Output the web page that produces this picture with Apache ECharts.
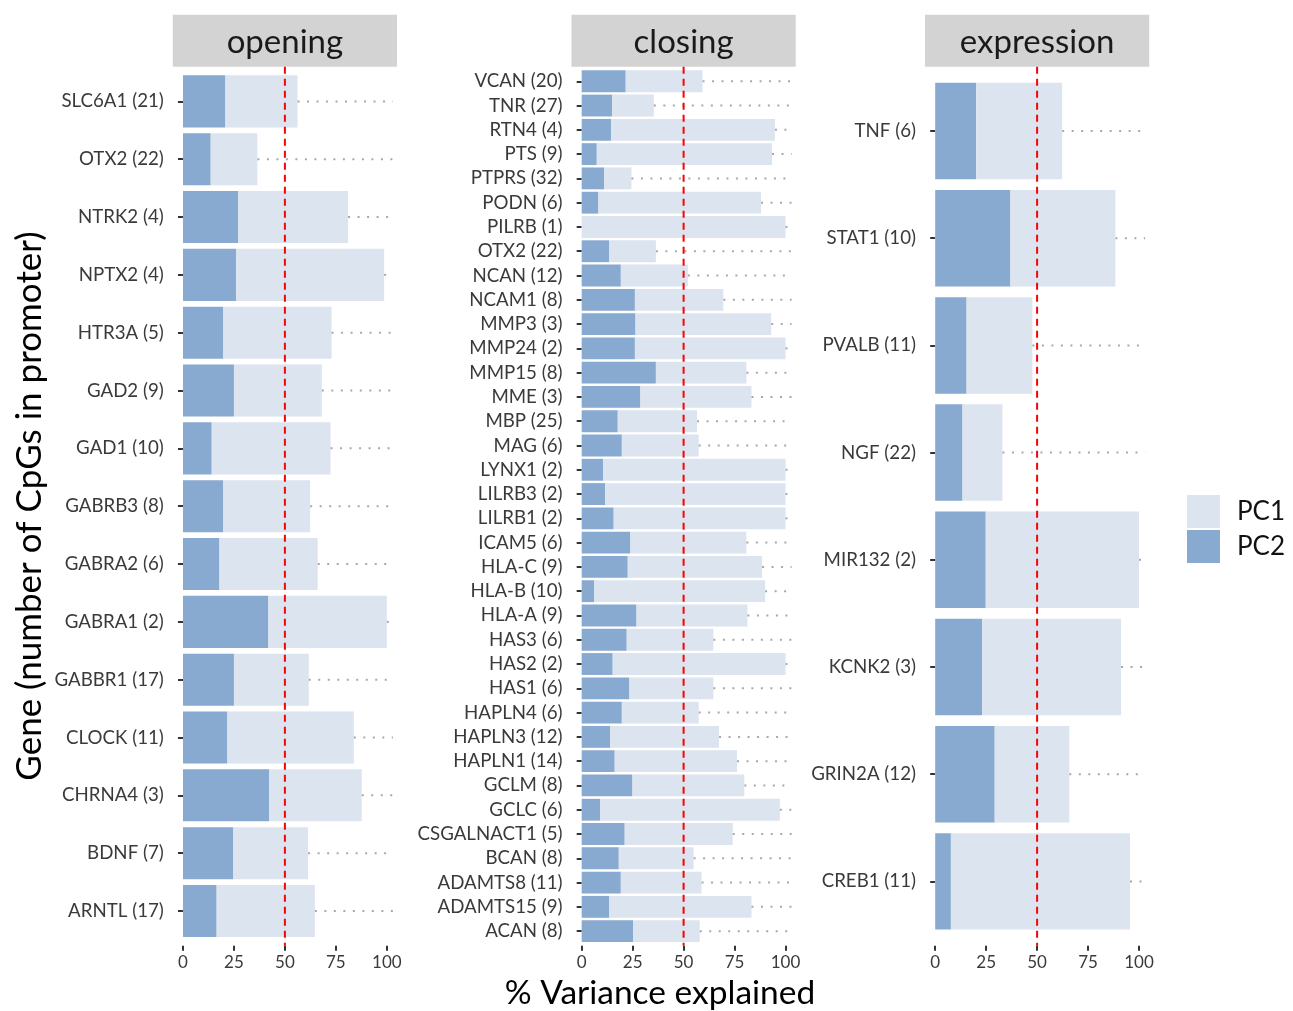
<!DOCTYPE html>
<html>
<head>
<meta charset="utf-8">
<script src="https://cdn.jsdelivr.net/npm/echarts@6/dist/echarts.min.js"></script>
<style>
  html, body { margin: 0; padding: 0; background: #fff; }
  #chart { width: 1293px; height: 1011px; }
</style>
</head>
<body>
<div id="chart"></div>
<script>
// ---- data: variance explained (%) by PC2 and PC1, stacked, per gene ----
const openingGenes = ['SLC6A1 (21)', 'OTX2 (22)', 'NTRK2 (4)', 'NPTX2 (4)', 'HTR3A (5)', 'GAD2 (9)',
  'GAD1 (10)', 'GABRB3 (8)', 'GABRA2 (6)', 'GABRA1 (2)', 'GABBR1 (17)', 'CLOCK (11)',
  'CHRNA4 (3)', 'BDNF (7)', 'ARNTL (17)'];
const openingPC2 = [20.8, 13.6, 27.0, 26.0, 19.8, 25.0, 14.1, 19.8, 17.9, 41.9, 25.0, 21.8, 42.2, 24.7, 16.5];
const openingPC1 = [35.4, 22.9, 54.0, 72.7, 53.1, 43.1, 58.3, 42.6, 48.2, 58.1, 36.7, 62.0, 45.5, 36.7, 48.2];

const closingGenes = ['VCAN (20)', 'TNR (27)', 'RTN4 (4)', 'PTS (9)', 'PTPRS (32)', 'PODN (6)',
  'PILRB (1)', 'OTX2 (22)', 'NCAN (12)', 'NCAM1 (8)', 'MMP3 (3)', 'MMP24 (2)', 'MMP15 (8)',
  'MME (3)', 'MBP (25)', 'MAG (6)', 'LYNX1 (2)', 'LILRB3 (2)', 'LILRB1 (2)', 'ICAM5 (6)',
  'HLA-C (9)', 'HLA-B (10)', 'HLA-A (9)', 'HAS3 (6)', 'HAS2 (2)', 'HAS1 (6)', 'HAPLN4 (6)',
  'HAPLN3 (12)', 'HAPLN1 (14)', 'GCLM (8)', 'GCLC (6)', 'CSGALNACT1 (5)', 'BCAN (8)',
  'ADAMTS8 (11)', 'ADAMTS15 (9)', 'ACAN (8)'];
const closingPC2 = [21.6, 14.9, 14.4, 7.4, 11.1, 8.2, 0, 13.4, 19.2, 26.1, 26.4, 26.1, 36.4,
  28.8, 17.7, 19.7, 10.5, 11.5, 15.7, 23.9, 22.6, 6.2, 26.9, 22.1, 15.2, 23.4, 19.7,
  13.9, 16.2, 24.9, 9.0, 21.1, 18.2, 19.2, 13.4, 25.2];
const closingPC1 = [37.7, 20.5, 80.4, 86.0, 13.3, 79.8, 100, 23.0, 32.9, 43.4, 66.6, 73.9, 44.4,
  54.5, 38.9, 37.7, 89.5, 88.5, 84.3, 56.9, 65.9, 83.8, 54.4, 42.5, 84.8, 41.2, 37.7,
  53.5, 60.0, 54.9, 88.2, 53.0, 36.7, 39.6, 69.9, 32.7];

const expressionGenes = ['TNF (6)', 'STAT1 (10)', 'PVALB (11)', 'NGF (22)', 'MIR132 (2)',
  'KCNK2 (3)', 'GRIN2A (12)', 'CREB1 (11)'];
const expressionPC2 = [20.1, 36.9, 15.4, 13.4, 24.8, 23.0, 29.2, 7.7];
const expressionPC1 = [42.2, 51.5, 32.3, 19.6, 75.2, 68.2, 36.6, 87.9];

const xTicks = [0, 25, 50, 75, 100];
const threshold = 50;

const panels = [
  { title: 'opening', genes: openingGenes, pc2: openingPC2, pc1: openingPC1, plotLeft: 172.8 },
  { title: 'closing', genes: closingGenes, pc2: closingPC2, pc1: closingPC1, plotLeft: 571.5 },
  { title: 'expression', genes: expressionGenes, pc2: expressionPC2, pc1: expressionPC1, plotLeft: 925 }
];

// ---- layout ----
const FONT = 'Lato, "Open Sans", sans-serif';
const plotTop = 66.7, plotBottom = 945.7, plotH = plotBottom - plotTop;
const plotW = 224.2;                 // panel width covers -5 .. 105
const unit = plotW / 110;
const guideEnd = 103;                // where the dotted guides stop
const colPC1 = '#DCE4EF', colPC2 = '#88A9D0';
const textCol = '#3a3a3a';

const grids = [], xAxes = [], yAxes = [], series = [], graphics = [];

panels.forEach((p, i) => {
  const n = p.genes.length;
  const band = plotH / (n + 0.2);
  const pad = 0.1 * band;
  grids.push({ left: p.plotLeft + 5 * unit, width: 100 * unit, top: plotTop + pad, height: n * band });
  xAxes.push({
    type: 'value', gridIndex: i, min: 0, max: 100, interval: 25, offset: pad,
    axisLine: { show: false },
    axisTick: { show: true, length: 5, lineStyle: { color: '#333', width: 2 } },
    axisLabel: { fontFamily: FONT, fontSize: 17, color: textCol, margin: 8,
      formatter: v => xTicks.includes(v) ? String(v) : '' },
    splitLine: { show: false }
  });
  yAxes.push({
    type: 'category', gridIndex: i, data: p.genes, inverse: true, offset: 5 * unit,
    axisLine: { show: false },
    axisTick: { show: true, alignWithLabel: true, interval: 0, length: 5, lineStyle: { color: '#333', width: 2 } },
    axisLabel: { fontFamily: FONT, fontSize: 18.7, color: textCol, margin: 9, interval: 0 },
    splitLine: { show: false }
  });
  series.push({
    name: 'PC2', type: 'bar', xAxisIndex: i, yAxisIndex: i, stack: 'pc' + i,
    barWidth: '90%', data: p.pc2, itemStyle: { color: colPC2 }, silent: true
  });
  series.push({
    name: 'PC1', type: 'bar', xAxisIndex: i, yAxisIndex: i, stack: 'pc' + i,
    barWidth: '90%', data: p.pc1, itemStyle: { color: colPC1 }, silent: true
  });
  // dotted guide from the end of each bar towards the panel edge
  series.push({
    type: 'custom', xAxisIndex: i, yAxisIndex: i, silent: true, z: 3,
    data: p.genes.map((g, k) => [p.pc2[k] + p.pc1[k], k]),
    encode: { x: 0, y: 1 },
    renderItem: (params, api) => {
      const a = api.coord([api.value(0), api.value(1)]);
      const b = api.coord([guideEnd, api.value(1)]);
      return { type: 'line', shape: { x1: a[0], y1: a[1], x2: b[0], y2: b[1] },
        style: { stroke: '#A8A8A8', lineWidth: 2, lineDash: [2, 7.5] } };
    }
  });
  // dashed reference line at 50 %
  series.push({
    type: 'custom', xAxisIndex: i, yAxisIndex: i, silent: true, z: 5,
    data: [[threshold, 0]],
    encode: { x: 0, y: 1 },
    renderItem: (params, api) => {
      const cs = params.coordSys;
      const x = api.coord([api.value(0), 0])[0];
      const bh = api.size([0, 1])[1];
      return { type: 'line', shape: { x1: x, y1: cs.y - 0.1 * bh, x2: x, y2: cs.y + cs.height + 0.1 * bh },
        style: { stroke: '#FF0000', lineWidth: 2, lineDash: [7, 5] } };
    }
  });
  // facet strip
  graphics.push({ type: 'rect', shape: { x: p.plotLeft, y: 14.7, width: plotW, height: 52 },
    style: { fill: '#D3D3D3' }, silent: true });
  graphics.push({ type: 'text', x: p.plotLeft + plotW / 2, y: 42, silent: true,
    style: { text: p.title, font: '33px ' + FONT, fill: '#1a1a1a', textAlign: 'center', textVerticalAlign: 'middle' } });
});

graphics.push({ type: 'text', x: 660, y: 993, silent: true,
  style: { text: '% Variance explained', font: '33.5px ' + FONT, fill: '#000', textAlign: 'center', textVerticalAlign: 'middle' } });
graphics.push({ type: 'text', x: 30, y: 506, rotation: Math.PI / 2, silent: true,
  style: { text: 'Gene (number of CpGs in promoter)', font: '35px ' + FONT, fill: '#000', textAlign: 'center', textVerticalAlign: 'middle' } });

const chart = echarts.init(document.getElementById('chart'), null, { renderer: 'canvas' });
chart.setOption({
  animation: false,
  backgroundColor: '#ffffff',
  grid: grids,
  xAxis: xAxes,
  yAxis: yAxes,
  legend: {
    data: ['PC1', 'PC2'], orient: 'vertical', left: 1182, top: 490,
    itemWidth: 33, itemHeight: 33, itemGap: 2, selectedMode: false, icon: 'rect',
    textStyle: { fontFamily: FONT, fontSize: 26, color: '#111', padding: [0, 0, 0, 12] }
  },
  graphic: graphics,
  series: series
});
</script>
</body>
</html>
